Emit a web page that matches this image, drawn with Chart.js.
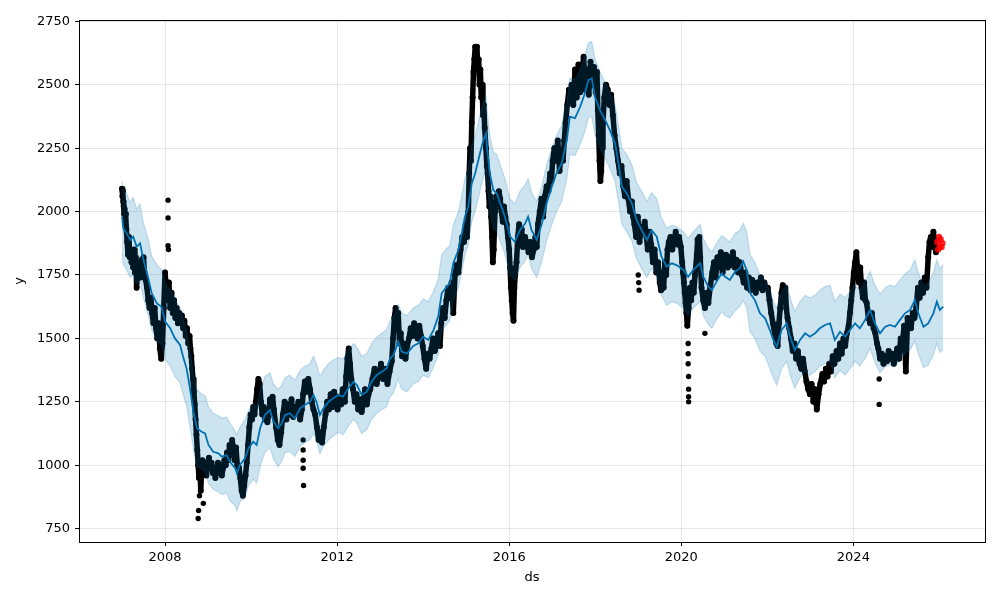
<!DOCTYPE html>
<html>
<head>
<meta charset="utf-8">
<script src="https://cdn.jsdelivr.net/npm/chart.js@4.4.1/dist/chart.umd.min.js"></script>
<style>
  html, body { margin: 0; padding: 0; background: #fff; }
  canvas { display: block; }
</style>
</head>
<body>
<canvas id="forecastChart" width="1000" height="600"></canvas>
<script>
const obsYears = [
  2007.00, 2007.01, 2007.02, 2007.03, 2007.04, 2007.05, 2007.06, 2007.07, 2007.08, 2007.09, 2007.10,
  2007.12, 2007.14, 2007.16, 2007.18, 2007.20, 2007.22, 2007.24, 2007.26, 2007.28, 2007.30, 2007.32, 2007.34,
  2007.36, 2007.38, 2007.40, 2007.42, 2007.44, 2007.46, 2007.48, 2007.50,
  2007.52, 2007.55, 2007.58, 2007.61, 2007.64, 2007.67, 2007.70, 2007.73, 2007.76, 2007.79, 2007.82, 2007.85, 2007.88, 2007.91, 2007.94,
  2007.97, 2008.00, 2008.03, 2008.06, 2008.09, 2008.12, 2008.15, 2008.18, 2008.21, 2008.24, 2008.27, 2008.30,
  2008.33, 2008.36, 2008.39, 2008.42, 2008.45, 2008.48, 2008.51, 2008.54, 2008.57, 2008.59,
  2008.61, 2008.63, 2008.65, 2008.67, 2008.69, 2008.71, 2008.73,
  2008.75, 2008.77, 2008.79, 2008.81, 2008.83, 2008.85,
  2008.87, 2008.90, 2008.93, 2008.96, 2008.99, 2009.02, 2009.05, 2009.08, 2009.11, 2009.14, 2009.17, 2009.20, 2009.23, 2009.26, 2009.29, 2009.32, 2009.35, 2009.38,
  2009.41, 2009.44, 2009.47, 2009.50, 2009.53, 2009.56, 2009.59, 2009.62, 2009.65, 2009.68,
  2009.72, 2009.75, 2009.78, 2009.81, 2009.84, 2009.87, 2009.90,
  2009.93, 2009.96, 2009.99, 2010.02, 2010.05, 2010.08, 2010.11, 2010.14, 2010.17, 2010.20,
  2010.23, 2010.26, 2010.29, 2010.32, 2010.35, 2010.38, 2010.41, 2010.44, 2010.47, 2010.50, 2010.53,
  2010.58, 2010.62, 2010.66, 2010.70,
  2010.74, 2010.78, 2010.82, 2010.86, 2010.90, 2010.94, 2010.98, 2011.02, 2011.06, 2011.10, 2011.14, 2011.18,
  2011.21, 2011.25, 2011.29, 2011.33, 2011.37, 2011.41, 2011.45,
  2011.49, 2011.53, 2011.57, 2011.61, 2011.65, 2011.69,
  2011.73, 2011.77, 2011.81, 2011.85, 2011.89, 2011.93, 2011.97, 2012.01, 2012.05, 2012.09, 2012.13, 2012.18,
  2012.21, 2012.24, 2012.27, 2012.30, 2012.33,
  2012.37, 2012.41, 2012.45, 2012.49, 2012.53, 2012.57, 2012.61, 2012.65, 2012.69, 2012.73,
  2012.77, 2012.82, 2012.87, 2012.92, 2012.97, 2013.02, 2013.07, 2013.12, 2013.17, 2013.22, 2013.27,
  2013.30, 2013.33, 2013.36, 2013.39, 2013.42, 2013.45, 2013.48,
  2013.51, 2013.55, 2013.59, 2013.63, 2013.67,
  2013.71, 2013.75, 2013.79, 2013.83, 2013.87, 2013.91, 2013.95, 2013.99, 2014.03, 2014.07, 2014.11,
  2014.15, 2014.19, 2014.23, 2014.27, 2014.31, 2014.35, 2014.39,
  2014.42, 2014.46, 2014.50, 2014.54, 2014.58, 2014.62, 2014.66, 2014.70, 2014.74, 2014.78, 2014.82,
  2014.87, 2014.91, 2014.95, 2014.99, 2015.02, 2015.05, 2015.07, 2015.09, 2015.11, 2015.13, 2015.15, 2015.17, 2015.19, 2015.21,
  2015.23, 2015.25, 2015.27, 2015.29, 2015.31, 2015.33, 2015.35, 2015.37, 2015.39, 2015.41, 2015.43, 2015.46, 2015.48,
  2015.50, 2015.52, 2015.54, 2015.56, 2015.58, 2015.60, 2015.62, 2015.64,
  2015.67, 2015.70, 2015.73, 2015.76, 2015.79, 2015.82, 2015.85, 2015.88, 2015.91, 2015.94, 2015.97,
  2016.00, 2016.02, 2016.04, 2016.06, 2016.08, 2016.10, 2016.12, 2016.14,
  2016.17, 2016.20, 2016.23, 2016.26, 2016.29, 2016.32,
  2016.37, 2016.41, 2016.45, 2016.49, 2016.53, 2016.57, 2016.61, 2016.64,
  2016.67, 2016.71, 2016.75, 2016.79, 2016.83, 2016.87, 2016.91, 2016.95, 2016.98,
  2017.01, 2017.05, 2017.09, 2017.13, 2017.17, 2017.21, 2017.25, 2017.28,
  2017.31, 2017.35, 2017.39, 2017.42,
  2017.45, 2017.49, 2017.53, 2017.57, 2017.61, 2017.65, 2017.69, 2017.73, 2017.77, 2017.81, 2017.85, 2017.89, 2017.93, 2017.97, 2018.01, 2018.04,
  2018.06, 2018.08, 2018.10, 2018.12, 2018.14, 2018.16, 2018.18,
  2018.21, 2018.25, 2018.29, 2018.33, 2018.37, 2018.41,
  2018.45, 2018.49, 2018.53, 2018.57, 2018.61, 2018.65, 2018.69, 2018.73, 2018.77, 2018.81, 2018.85, 2018.88,
  2018.91, 2018.95, 2018.99, 2019.03, 2019.07, 2019.11, 2019.15, 2019.19,
  2019.22, 2019.26, 2019.30, 2019.34, 2019.38, 2019.42, 2019.46,
  2019.50, 2019.53, 2019.56, 2019.59, 2019.62, 2019.65, 2019.68,
  2019.71, 2019.75, 2019.79, 2019.83, 2019.87, 2019.91, 2019.95, 2019.99,
  2020.02, 2020.04, 2020.06, 2020.08, 2020.10, 2020.12, 2020.14,
  2020.17, 2020.20, 2020.23, 2020.26, 2020.29, 2020.32,
  2020.36, 2020.38, 2020.40, 2020.42, 2020.44,
  2020.47, 2020.51, 2020.55, 2020.59, 2020.63, 2020.67,
  2020.72, 2020.76, 2020.80, 2020.84, 2020.88, 2020.92, 2020.96, 2021.00, 2021.04, 2021.08, 2021.12, 2021.16, 2021.20, 2021.24, 2021.28, 2021.32, 2021.36,
  2021.41, 2021.45, 2021.49, 2021.53, 2021.57, 2021.61, 2021.65, 2021.69, 2021.73, 2021.77, 2021.81, 2021.85, 2021.89, 2021.93, 2021.97,
  2022.01, 2022.05, 2022.09, 2022.13, 2022.17, 2022.21, 2022.24,
  2022.27, 2022.30, 2022.33, 2022.36, 2022.39, 2022.42, 2022.44,
  2022.47, 2022.51, 2022.55, 2022.59, 2022.63, 2022.67, 2022.71, 2022.75, 2022.79, 2022.83,
  2022.87, 2022.91, 2022.95, 2022.99, 2023.03, 2023.07, 2023.11, 2023.15, 2023.19, 2023.23,
  2023.28, 2023.32, 2023.36, 2023.40, 2023.44, 2023.48, 2023.52, 2023.56,
  2023.61, 2023.65, 2023.69, 2023.73, 2023.77, 2023.81, 2023.85, 2023.89,
  2023.92, 2023.95, 2023.98, 2024.01, 2024.04, 2024.07, 2024.10, 2024.13, 2024.16, 2024.19, 2024.22, 2024.25, 2024.28,
  2024.31, 2024.35, 2024.39, 2024.43, 2024.47, 2024.51, 2024.55,
  2024.58, 2024.62, 2024.66, 2024.70, 2024.74, 2024.78, 2024.82, 2024.86, 2024.90, 2024.94, 2024.98, 2025.02,
  2025.06, 2025.10, 2025.14, 2025.18, 2025.22, 2025.26, 2025.30, 2025.34, 2025.38, 2025.42, 2025.46,
  2025.50, 2025.54, 2025.58, 2025.62, 2025.66, 2025.70,
  2025.74, 2025.77, 2025.80, 2025.83, 2025.86, 2025.89, 2025.92
];
const obsValues = [
  2090, 2060, 2080, 2040, 2020, 1990, 2010, 1975, 1950, 1990, 1930,
  1880, 1830, 1900, 1820, 1850, 1800, 1840, 1780, 1850, 1760, 1820, 1700,
  1790, 1760, 1800, 1740, 1790, 1810, 1760, 1820,
  1760, 1730, 1700, 1650, 1620, 1660, 1600, 1560, 1620, 1540, 1500, 1560, 1460, 1420, 1480,
  1620, 1760, 1700, 1650, 1720, 1620, 1680, 1600, 1650, 1580, 1620, 1560,
  1600, 1560, 1590, 1540, 1570, 1510, 1540, 1480, 1510, 1460,
  1430, 1380, 1340, 1290, 1240, 1180, 1120,
  1060, 1000, 950, 1010, 900, 980,
  1020, 980, 1010, 960, 1000, 1030, 990, 1010, 970, 990, 950, 980, 1010, 970, 1000, 960, 990, 1020,
  1000, 1050, 1020, 1080, 1040, 1100, 1060, 1020, 1070, 1000,
  990, 950, 900, 880, 920, 960, 1010,
  1080, 1150, 1200, 1180, 1230, 1200, 1250, 1300, 1340, 1320,
  1250, 1200, 1230, 1180, 1220, 1170, 1200, 1260, 1230, 1270, 1220,
  1150, 1100, 1080, 1130,
  1200, 1250, 1180, 1240, 1200, 1260, 1190, 1230, 1210, 1250, 1180, 1220,
  1280, 1330, 1290, 1340, 1300, 1250, 1220,
  1200, 1150, 1100, 1130, 1090, 1150,
  1200, 1250, 1220, 1280, 1230, 1290, 1260, 1220, 1270, 1240, 1300, 1250,
  1350, 1420, 1460, 1400, 1340,
  1300, 1250, 1280, 1220, 1260, 1210, 1250, 1300, 1240, 1280,
  1300, 1340, 1380, 1320, 1360, 1400, 1340, 1380, 1320, 1370, 1410,
  1500, 1580, 1620, 1550, 1600, 1480, 1520,
  1430, 1480, 1420, 1470, 1500,
  1540, 1510, 1560, 1520, 1500, 1550, 1510, 1470, 1420, 1380, 1440,
  1420, 1460, 1500, 1450, 1480, 1520, 1470,
  1560, 1620, 1580, 1650, 1700, 1660, 1720, 1600, 1750, 1790, 1760,
  1850, 1900, 1880, 1950, 1900, 2000, 2150, 2250, 2200, 2350, 2450, 2550, 2600, 2650,
  2620, 2650, 2560, 2600, 2500, 2560, 2450, 2500, 2380, 2420, 2330, 2250, 2180,
  2150, 2080, 2020, 2060, 1980, 1900, 1800, 1850,
  2000, 2060, 2020, 2080, 2050, 2000, 1960, 2020, 1980, 1950, 1900,
  1850, 1780, 1700, 1650, 1600, 1570, 1700, 1750,
  1800, 1900, 1950, 1880, 1930, 1860,
  1900, 1870, 1840, 1880, 1820, 1850, 1900, 1860,
  1950, 2000, 2050, 1980, 2060, 2100, 2080, 2150, 2120,
  2200, 2250, 2200, 2280, 2160, 2240, 2200, 2280,
  2350, 2420, 2480, 2450,
  2500, 2420, 2560, 2450, 2580, 2470, 2540, 2610, 2480, 2560, 2460, 2590, 2500, 2570, 2470, 2550,
  2400, 2300, 2200, 2120, 2160, 2250, 2350,
  2450, 2500, 2480, 2420, 2460, 2380,
  2300, 2250, 2200, 2150, 2180, 2100, 2060, 2120, 2050, 2000, 2040, 1980,
  1950, 1900, 1980, 1880, 1940, 1920, 1960, 1900,
  1850, 1920, 1870, 1800, 1850, 1760, 1800,
  1720, 1690, 1760, 1700, 1800, 1750, 1850,
  1880, 1900, 1850, 1880, 1920, 1870, 1900, 1860,
  1800, 1760, 1720, 1680, 1640, 1600, 1550,
  1620, 1700, 1650, 1720, 1680, 1750,
  1830, 1890, 1870, 1900, 1820,
  1700, 1650, 1620, 1680, 1640, 1700,
  1760, 1800, 1740, 1820, 1780, 1840, 1760, 1800, 1830, 1780, 1820, 1790, 1840, 1780, 1810, 1760, 1800,
  1750, 1720, 1760, 1700, 1740, 1690, 1730, 1710, 1680, 1720, 1700, 1740, 1690, 1720, 1700,
  1700, 1650, 1600, 1560, 1520, 1480, 1470,
  1560, 1620, 1680, 1710, 1660, 1700, 1620,
  1580, 1540, 1500, 1450, 1480, 1420, 1450, 1400, 1380, 1420,
  1370, 1330, 1300, 1280, 1320, 1250, 1300, 1220, 1280, 1320,
  1360, 1330, 1380, 1350, 1400, 1370, 1430, 1400,
  1450, 1420, 1480, 1440, 1500, 1470, 1520, 1550,
  1600, 1650, 1700, 1760, 1800, 1840, 1760, 1720, 1780, 1700, 1660, 1720, 1650,
  1640, 1580, 1560, 1600, 1540, 1520, 1480,
  1460, 1420, 1440, 1400, 1430, 1410, 1450, 1420, 1440, 1400, 1430, 1460,
  1420, 1500, 1480, 1550, 1370, 1580, 1560, 1540, 1600, 1580, 1620,
  1700, 1660, 1720, 1680, 1740, 1700,
  1820, 1880, 1900, 1860, 1920, 1880, 1840
];

// stray observations away from the main run
const outlierYears = [2008.07, 2008.07, 2008.07, 2008.08, 2008.77, 2008.78, 2008.80, 2008.89,
  2011.21, 2011.21, 2011.21, 2011.21, 2011.22, 2019.00, 2019.01, 2019.02,
  2020.16, 2020.16, 2020.16, 2020.17, 2020.17, 2020.17, 2020.17, 2020.55, 2024.60, 2024.60];
const outlierValues = [2045, 1975, 1865, 1850, 790, 822, 880, 850,
  1100, 1060, 1020, 988, 920, 1750, 1720, 1690,
  1480, 1440, 1400, 1350, 1300, 1270, 1250, 1520, 1340, 1240];

// latest observations, shown in red
const recentYears = [2025.95, 2025.97, 2025.99, 2026.01, 2026.03, 2026.05, 2026.07];
const recentValues = [1880, 1850, 1900, 1860, 1890, 1860, 1875];

// fitted trend (yhat) and its uncertainty band
const fcstYears = [
  2007.00, 2007.03, 2007.11, 2007.19, 2007.26, 2007.34, 2007.42, 2007.49, 2007.61, 2007.69,
  2007.81, 2007.92, 2008.00, 2008.12, 2008.23, 2008.35, 2008.42, 2008.50, 2008.58, 2008.66,
  2008.74, 2008.85, 2008.93, 2009.01, 2009.12, 2009.24, 2009.32, 2009.43, 2009.51, 2009.63,
  2009.67, 2009.74, 2009.86, 2009.94, 2010.05, 2010.13, 2010.21, 2010.32, 2010.44, 2010.52,
  2010.63, 2010.71, 2010.79, 2010.90, 2011.02, 2011.14, 2011.25, 2011.37, 2011.45, 2011.52,
  2011.60, 2011.68, 2011.80, 2011.91, 2012.03, 2012.14, 2012.26, 2012.38, 2012.46, 2012.57,
  2012.69, 2012.80, 2012.92, 2013.04, 2013.15, 2013.23, 2013.31, 2013.42, 2013.50, 2013.62,
  2013.77, 2013.89, 2014.00, 2014.12, 2014.24, 2014.35, 2014.43, 2014.55, 2014.62, 2014.70,
  2014.82, 2014.90, 2014.97, 2015.05, 2015.13, 2015.21, 2015.32, 2015.40, 2015.46, 2015.49,
  2015.55, 2015.63, 2015.71, 2015.79, 2015.90, 2016.02, 2016.13, 2016.25, 2016.37, 2016.44,
  2016.52, 2016.64, 2016.76, 2016.87, 2016.99, 2017.10, 2017.22, 2017.34, 2017.41, 2017.53,
  2017.65, 2017.76, 2017.84, 2017.92, 2017.99, 2018.11, 2018.23, 2018.34, 2018.46, 2018.54,
  2018.62, 2018.73, 2018.85, 2018.96, 2019.08, 2019.20, 2019.31, 2019.43, 2019.54, 2019.66,
  2019.78, 2019.89, 2020.05, 2020.16, 2020.28, 2020.44, 2020.51, 2020.63, 2020.71, 2020.82,
  2020.94, 2021.02, 2021.13, 2021.25, 2021.36, 2021.44, 2021.52, 2021.60, 2021.71, 2021.83,
  2021.95, 2022.06, 2022.14, 2022.22, 2022.33, 2022.45, 2022.53, 2022.64, 2022.76, 2022.88,
  2022.99, 2023.11, 2023.22, 2023.34, 2023.46, 2023.57, 2023.69, 2023.81, 2023.92, 2024.04,
  2024.15, 2024.27, 2024.39, 2024.50, 2024.62, 2024.74, 2024.85, 2024.97, 2025.08, 2025.20,
  2025.32, 2025.43, 2025.51, 2025.63, 2025.74, 2025.86, 2025.94, 2026.01, 2026.09
];
const yhat = [
  1980, 1934, 1914, 1888, 1901, 1862, 1875, 1816, 1737, 1678,
  1638, 1625, 1566, 1540, 1500, 1474, 1428, 1382, 1303, 1211,
  1146, 1132, 1126, 1080, 1053, 1047, 1034, 1040, 1014, 988,
  968, 1001, 1027, 1067, 1093, 1080, 1146, 1198, 1218, 1172,
  1146, 1165, 1198, 1205, 1185, 1224, 1238, 1250, 1277, 1250,
  1198, 1224, 1250, 1264, 1277, 1270, 1303, 1329, 1316, 1277,
  1290, 1329, 1356, 1369, 1382, 1421, 1434, 1487, 1448, 1440,
  1470, 1481, 1507, 1494, 1533, 1586, 1678, 1704, 1717, 1796,
  1849, 1914, 1980, 2020, 2111, 2151, 2229, 2282, 2308, 2243,
  2151, 2085, 2072, 2033, 1980, 1901, 1881, 1927, 1953, 1980,
  1927, 1888, 1953, 2033, 2098, 2151, 2190, 2282, 2374, 2368,
  2413, 2466, 2518, 2525, 2453, 2400, 2361, 2321, 2269, 2190,
  2098, 2072, 2033, 1967, 1927, 1888, 1927, 1901, 1822, 1783,
  1796, 1789, 1770, 1743, 1770, 1796, 1743, 1704, 1691, 1724,
  1757, 1743, 1730, 1763, 1776, 1803, 1770, 1678, 1651, 1599,
  1579, 1533, 1494, 1467, 1533, 1559, 1507, 1454, 1494, 1520,
  1507, 1520, 1540, 1553, 1559, 1494, 1526, 1507, 1533, 1559,
  1540, 1572, 1612, 1559, 1520, 1546, 1553, 1546, 1572, 1599,
  1612, 1651, 1599, 1546, 1559, 1599, 1645, 1612, 1625
];
const yhatUpper = [
  2120, 2085, 2070, 2035, 2055, 2010, 2030, 1960, 1890, 1825,
  1790, 1770, 1720, 1690, 1655, 1620, 1580, 1530, 1455, 1360,
  1300, 1280, 1275, 1230, 1205, 1195, 1185, 1190, 1165, 1135,
  1120, 1150, 1180, 1215, 1245, 1230, 1295, 1350, 1365, 1320,
  1300, 1315, 1345, 1355, 1335, 1375, 1390, 1400, 1430, 1400,
  1350, 1375, 1400, 1415, 1425, 1420, 1455, 1480, 1465, 1430,
  1440, 1480, 1505, 1520, 1535, 1570, 1585, 1635, 1600, 1590,
  1620, 1630, 1655, 1645, 1685, 1735, 1830, 1855, 1865, 1945,
  2000, 2065, 2130, 2170, 2260, 2300, 2380, 2430, 2455, 2395,
  2300, 2235, 2225, 2185, 2130, 2050, 2030, 2080, 2105, 2130,
  2075, 2040, 2100, 2185, 2250, 2300, 2340, 2430, 2525, 2520,
  2560, 2615, 2665, 2670, 2605, 2550, 2510, 2470, 2420, 2340,
  2250, 2225, 2185, 2115, 2080, 2040, 2075, 2050, 1975, 1935,
  1945, 1940, 1920, 1895, 1920, 1950, 1895, 1855, 1840, 1875,
  1905, 1895, 1880, 1915, 1925, 1955, 1920, 1830, 1800, 1750,
  1730, 1685, 1645, 1620, 1685, 1710, 1660, 1605, 1645, 1670,
  1660, 1670, 1690, 1705, 1710, 1645, 1675, 1660, 1685, 1710,
  1690, 1725, 1765, 1710, 1675, 1700, 1710, 1705, 1730, 1755,
  1770, 1810, 1760, 1705, 1720, 1760, 1810, 1775, 1790
];
const yhatLower = [
  1840, 1790, 1770, 1740, 1750, 1715, 1730, 1665, 1590, 1535,
  1490, 1475, 1420, 1390, 1350, 1325, 1280, 1235, 1150, 1065,
  995, 985, 975, 930, 905, 895, 885, 890, 860, 840,
  820, 855, 875, 920, 945, 930, 995, 1050, 1070, 1025,
  995, 1015, 1050, 1055, 1035, 1075, 1090, 1100, 1125, 1100,
  1045, 1075, 1100, 1115, 1130, 1120, 1155, 1180, 1165, 1125,
  1140, 1180, 1205, 1220, 1230, 1270, 1285, 1340, 1300, 1290,
  1320, 1330, 1355, 1345, 1385, 1435, 1530, 1555, 1570, 1645,
  1700, 1765, 1830, 1870, 1960, 2000, 2080, 2135, 2160, 2095,
  2000, 1935, 1920, 1885, 1830, 1750, 1730, 1780, 1805, 1830,
  1775, 1740, 1805, 1885, 1950, 2000, 2040, 2130, 2225, 2220,
  2265, 2315, 2370, 2375, 2305, 2250, 2210, 2170, 2120, 2040,
  1950, 1920, 1885, 1815, 1775, 1740, 1775, 1750, 1670, 1630,
  1645, 1640, 1620, 1590, 1620, 1645, 1590, 1555, 1540, 1575,
  1605, 1590, 1580, 1610, 1625, 1650, 1620, 1525, 1500, 1450,
  1430, 1380, 1345, 1315, 1380, 1410, 1355, 1305, 1345, 1370,
  1355, 1370, 1390, 1400, 1410, 1345, 1375, 1355, 1380, 1410,
  1390, 1420, 1460, 1405, 1365, 1390, 1395, 1390, 1415, 1440,
  1455, 1490, 1440, 1385, 1395, 1435, 1480, 1445, 1455
];

const xTicks = [2008, 2012, 2016, 2020, 2024];
const yTicks = [750, 1000, 1250, 1500, 1750, 2000, 2250, 2500, 2750];

const BAND = 'rgba(0,114,178,0.2)';
const GRID = 'rgba(128,128,128,0.2)';
const tickFont = { family: 'DejaVu Sans', size: 13 };

function toPoints(xs, ys) {
    const n = Math.min(xs.length, ys.length);
    const pts = [];
    for (let i = 0; i < n; i++) pts.push({ x: xs[i], y: ys[i] });
    return pts;
}

// matplotlib style box round the plot area
const frame = {
    id: 'frame',
    afterDraw(chart) {
        const a = chart.chartArea;
        const c = chart.ctx;
        c.save();
        c.strokeStyle = '#000';
        c.lineWidth = 1;
        c.strokeRect(Math.round(a.left) + 0.5, Math.round(a.top) + 0.5,
            Math.round(a.right - a.left), Math.round(a.bottom - a.top));
        c.restore();
    }
};

const ctx = document.getElementById('forecastChart').getContext('2d');
new Chart(ctx, {
    type: 'scatter',
    data: {
        datasets: [
            {
                label: 'yhat_upper',
                data: toPoints(fcstYears, yhatUpper),
                showLine: true,
                borderColor: BAND,
                borderWidth: 1.2,
                backgroundColor: BAND,
                pointRadius: 0,
                fill: '+1',
                order: 0
            },
            {
                label: 'yhat_lower',
                data: toPoints(fcstYears, yhatLower),
                showLine: true,
                borderColor: BAND,
                borderWidth: 1.2,
                pointRadius: 0,
                fill: false,
                order: 0
            },
            {
                label: 'yhat',
                data: toPoints(fcstYears, yhat),
                showLine: true,
                borderColor: '#0072B2',
                borderWidth: 1.8,
                pointRadius: 0,
                order: 1
            },
            {
                label: 'y',
                data: toPoints(obsYears, obsValues),
                showLine: true,
                borderColor: '#000',
                borderWidth: 5.5,
                borderJoinStyle: 'round',
                borderCapStyle: 'round',
                pointRadius: 3,
                pointBorderWidth: 0,
                pointBackgroundColor: '#000',
                order: 2
            },
            {
                label: 'y stray',
                data: toPoints(outlierYears, outlierValues),
                pointRadius: 2.7,
                pointBorderWidth: 0,
                pointBackgroundColor: '#000',
                order: 2
            },
            {
                label: 'recent',
                data: toPoints(recentYears, recentValues),
                pointRadius: 3.2,
                pointBorderWidth: 0,
                pointBackgroundColor: 'rgba(255,0,0,0.85)',
                order: -1
            }
        ]
    },
    options: {
        responsive: false,
        animation: false,
        layout: { padding: { left: 0, right: 15, top: 20, bottom: 0 } },
        plugins: {
            legend: { display: false },
            tooltip: { enabled: false }
        },
        scales: {
            x: {
                type: 'linear',
                min: 2006.0,
                max: 2027.06,
                afterBuildTicks: (scale) => { scale.ticks = xTicks.map(v => ({ value: v })); },
                afterFit: (scale) => { scale.height = 58; },
                grid: { color: GRID, tickColor: '#000', tickLength: 4 },
                border: { display: false },
                ticks: { font: tickFont, color: '#000', padding: 4, maxRotation: 0, callback: v => String(v) },
                title: { display: true, text: 'ds', font: tickFont, color: '#000', padding: { top: 0, bottom: 15 } }
            },
            y: {
                type: 'linear',
                min: 697.6,
                max: 2755,
                afterBuildTicks: (scale) => { scale.ticks = yTicks.map(v => ({ value: v })); },
                afterFit: (scale) => { scale.width = 79; },
                grid: { color: GRID, tickColor: '#000', tickLength: 4 },
                border: { display: false },
                ticks: { font: tickFont, color: '#000', padding: 5, callback: v => String(v) },
                title: { display: true, text: 'y', font: tickFont, color: '#000', padding: { top: 12, bottom: 0 } }
            }
        }
    },
    plugins: [frame]
});
</script>
</body>
</html>
